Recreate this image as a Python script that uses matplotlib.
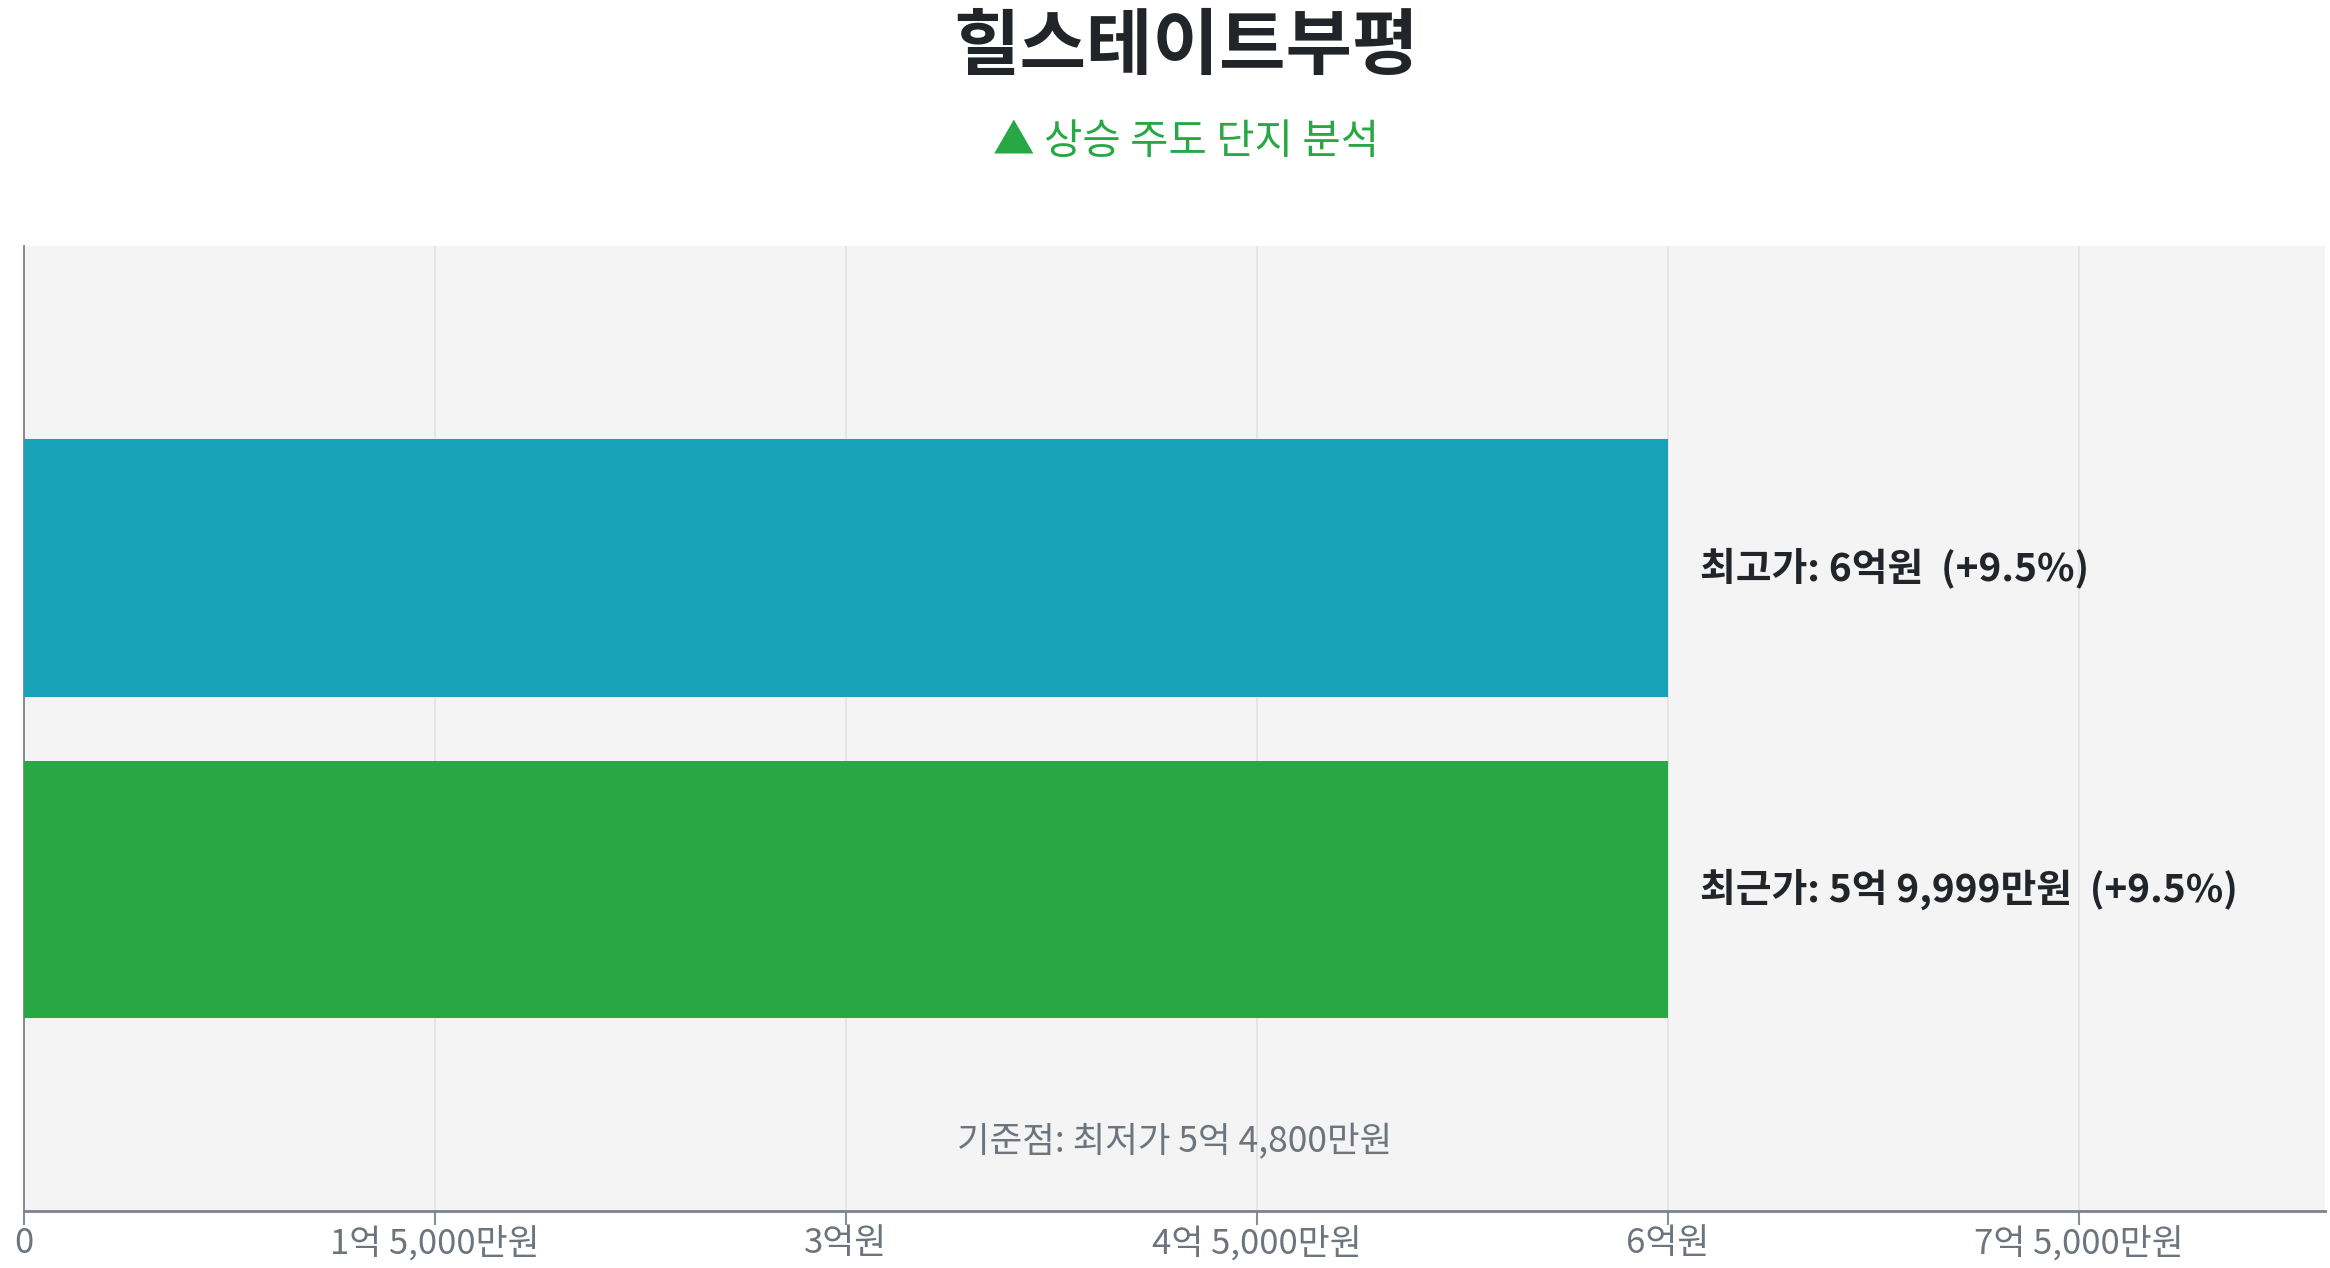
import matplotlib
matplotlib.use('Agg')
import matplotlib.pyplot as plt
from matplotlib.ticker import FuncFormatter, MultipleLocator

plt.rcParams['font.family'] = ['Noto Sans CJK KR', 'DejaVu Sans']

# data
title = '힐스테이트부평'
subtitle = '▲ 상승 주도 단지 분석'
bar_names = ['최근가', '최고가']
bar_values = [599990000, 600000000]
bar_colors = ['#28a745', '#17a2b8']
min_price = 548000000


def won_label(v, pos=None):
    # 억/만원 formatting
    if v == 0:
        return '0'
    v = int(round(v))
    eok = v // 100000000
    man = (v % 100000000) // 10000
    if eok and man:
        return f'{eok}억 {man:,}만원'
    if eok:
        return f'{eok}억원'
    return f'{man:,}만원'


fig = plt.figure(figsize=(23.3, 12.68), dpi=100)
ax = fig.add_axes([0.0103, 0.045, 0.9877, 0.7607])
ax.set_facecolor('#f4f4f4')

ypos = list(range(len(bar_values)))
ax.barh(ypos, bar_values, height=0.8, color=bar_colors, zorder=3)

for y, name, v in zip(ypos, bar_names, bar_values):
    pct = (v - min_price) / min_price * 100
    ax.annotate(f'{name}: {won_label(v)}  (+{pct:.1f}%)', xy=(v, y),
                xytext=(23, 0), textcoords='offset points',
                va='center', ha='left', fontsize=28, fontweight='bold',
                color='#212529', zorder=4)

ax.text(0.5, 0.071, f'기준점: 최저가 {won_label(min_price)}', transform=ax.transAxes,
        ha='center', va='center', fontsize=25.5, color='#6c757d')

ax.set_xlim(0, 8.4e8)
ax.set_ylim(-1, 2)
ax.xaxis.set_major_locator(MultipleLocator(1.5e8))
ax.xaxis.set_major_formatter(FuncFormatter(won_label))
ax.set_yticks([])
ax.grid(axis='x', color='#e3e3e3', linewidth=1.2, zorder=0)
ax.tick_params(axis='x', colors='#8a8f96', labelcolor='#6c757d', labelsize=25,
               length=10, width=1.5, pad=1)

for s in ['top', 'right']:
    ax.spines[s].set_visible(False)
ax.spines['left'].set_color('#7d8190')
ax.spines['left'].set_linewidth(1.3)
ax.spines['bottom'].set_color('#7d8190')
ax.spines['bottom'].set_linewidth(2)

fig.text(0.509, 0.962, title, ha='center', va='center', fontsize=52,
         fontweight='bold', color='#212529')
fig.text(0.509, 0.888, subtitle, ha='center', va='center', fontsize=30,
         color='#28a745')

fig.savefig('out.png', dpi=100)
